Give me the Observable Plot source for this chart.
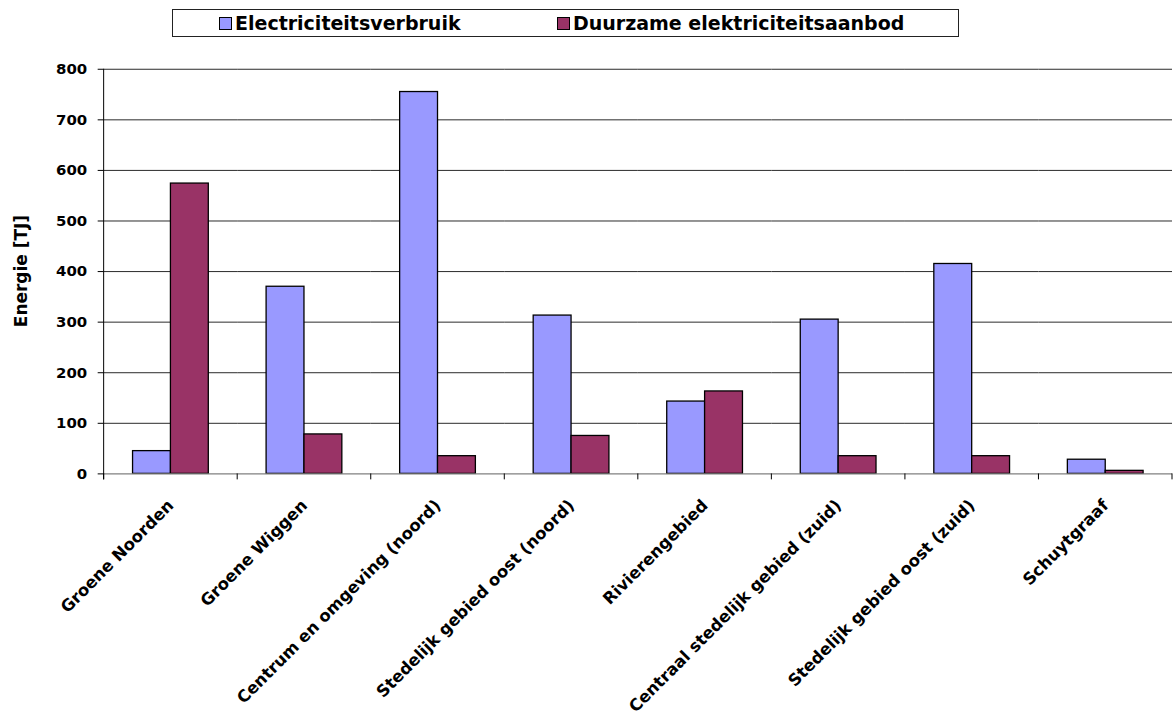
<!DOCTYPE html>
<html>
<head>
<meta charset="utf-8">
<script src="https://cdn.jsdelivr.net/npm/d3@7"></script>
<script src="https://cdn.jsdelivr.net/npm/@observablehq/plot@0.6"></script>
<style>
  html, body { margin: 0; padding: 0; background: #fff; overflow: hidden; }
  #wrap { position: relative; width: 1174px; height: 711px; }
  #legend {
    position: absolute; left: 172px; top: 9px; width: 787px; height: 28px;
    border: 1px solid #222; box-sizing: border-box; background: #fff;
    font-family: "DejaVu Sans", sans-serif; font-weight: bold; font-size: 19px; color: #000;
  }
  #legend .item { position: absolute; top: 2px; display: flex; align-items: center; white-space: nowrap; }
  #legend .sw { width: 11px; height: 11px; border: 1.2px solid #000; margin-right: 3px; }
  #chart { position: absolute; left: 0; top: 0; }
</style>
</head>
<body>
<div id="wrap">
  <div id="chart"></div>
  <div id="legend"></div>
</div>
<script>
const categories = [
  "Groene Noorden",
  "Groene Wiggen",
  "Centrum en omgeving (noord)",
  "Stedelijk gebied oost (noord)",
  "Rivierengebied",
  "Centraal stedelijk gebied (zuid)",
  "Stedelijk gebied oost (zuid)",
  "Schuytgraaf"
];
const series = ["Electriciteitsverbruik", "Duurzame elektriciteitsaanbod"];
const verbruik = [45, 370, 755, 313, 143, 305, 415, 28];
const aanbod = [574, 78, 35, 75, 163, 35, 35, 6];
const colors = ["#9999ff", "#993366"];
const yTicks = [0, 100, 200, 300, 400, 500, 600, 700, 800];
const yLabel = "Energie [TJ]";

const data = categories.flatMap((c, i) => [
  {cat: c, s: series[0], v: verbruik[i]},
  {cat: c, s: series[1], v: aanbod[i]}
]);

const chart = Plot.plot({
  width: 1178,
  height: 711,
  marginTop: 69,
  marginBottom: 236,
  marginLeft: 102,
  marginRight: 0,
  style: {fontFamily: "DejaVu Sans, sans-serif", fontWeight: "bold", fontSize: "15px", color: "#000", background: "transparent", overflow: "visible"},
  fx: {domain: categories, padding: 0, label: null, axis: null},
  x: {domain: series, paddingInner: 0, paddingOuter: 0.75, axis: null},
  y: {domain: [0, 800], label: null},
  color: {domain: series, range: colors},
  marks: [
    Plot.gridY(yTicks.filter(d => d > 0), {stroke: "#2a2a2a", strokeOpacity: 1, strokeWidth: 1}),
    Plot.barY(data, {fx: "cat", x: "s", y: "v", fill: "s", stroke: "#000", strokeWidth: 1.3}),
    Plot.ruleY([0], {stroke: "#808080", strokeWidth: 1.2}),
    Plot.axisY(yTicks, {tickSize: 6, tickPadding: 11, label: null, fontSize: 15}),
    Plot.axisFx({anchor: "bottom", tickRotate: -45, tickSize: 0, tickPadding: 29, label: null, fontSize: 16.5})
  ]
});

document.getElementById("chart").appendChild(chart);

// Category boundary ticks, left axis line and axis title, positioned from the library's scales
const fxs = chart.scale("fx");
const ys = chart.scale("y");
const svg = d3.select(chart);
const y0 = ys.apply(0);
const yTop = ys.apply(800);
const bw = fxs.bandwidth;
const edges = categories.map(c => fxs.apply(c)).concat([fxs.apply(categories[categories.length - 1]) + bw]);
const g = svg.append("g");
g.selectAll("line.edge").data(edges).join("line")
  .attr("class", "edge")
  .attr("x1", d => d).attr("x2", d => d)
  .attr("y1", y0).attr("y2", y0 + 6)
  .attr("stroke", "#000").attr("stroke-width", 1);
g.append("line")
  .attr("x1", edges[0]).attr("x2", edges[0])
  .attr("y1", yTop).attr("y2", y0 + 6)
  .attr("stroke", "#000").attr("stroke-width", 1);
g.append("text")
  .attr("transform", `translate(${edges[0] - 83},${(yTop + y0) / 2}) rotate(-90)`)
  .attr("text-anchor", "middle")
  .attr("dy", "0.35em")
  .attr("font-family", "DejaVu Sans, sans-serif")
  .attr("font-weight", "bold")
  .attr("font-size", 17)
  .attr("fill", "#000")
  .text(yLabel);

// Legend
const legend = d3.select("#legend");
const lefts = [46, 384];
series.forEach((s, i) => {
  const it = legend.append("div").attr("class", "item").style("left", lefts[i] + "px");
  it.append("div").attr("class", "sw").style("background", colors[i]);
  it.append("span").text(s);
});
</script>
</body>
</html>
